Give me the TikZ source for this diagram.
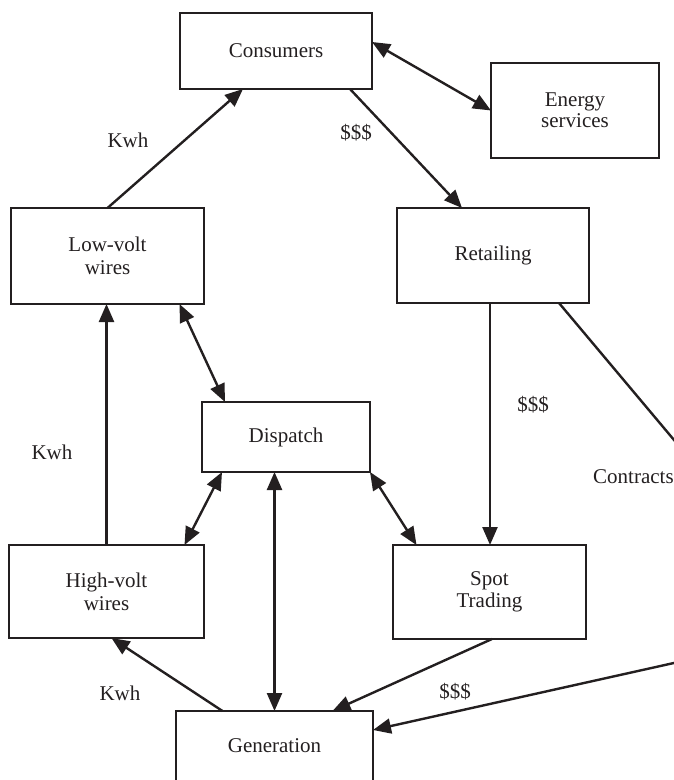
\documentclass[tikz,border=0pt]{standalone}
\usepackage{fontspec}
\setmainfont{Liberation Serif}
\usetikzlibrary{arrows.meta, positioning}
\definecolor{ink}{HTML}{231F20}

\begin{document}
\begin{tikzpicture}[x=1pt, y=-1pt,
  every node/.style={font=\fontsize{21}{23}\selectfont, text=ink},
  box/.style={draw=ink, line width=2.6pt, inner sep=0pt, outer sep=0pt, align=center},
  flow/.style={draw=ink, line width=2.4pt, -{Triangle[length=18pt, width=15pt]}},
  dflow/.style={draw=ink, line width=2.4pt, {Triangle[length=18pt, width=15pt]}-{Triangle[length=18pt, width=15pt]}}]
\useasboundingbox (0,0) rectangle (674,780);
% boxes
\node[box, minimum width=192pt, minimum height=76pt] (cons) at (276,51) {Consumers};
\node[box, minimum width=168pt, minimum height=95pt] (energy) at (575,110.5) {\raisebox{-6pt}{\shortstack{Energy\\services}}};
\node[box, minimum width=193pt, minimum height=96pt] (lowv) at (107.5,256) {Low-volt\\wires};
\node[box, minimum width=192pt, minimum height=95pt] (retail) at (493,255.5) {\raisebox{4pt}{Retailing}};
\node[box, minimum width=168pt, minimum height=70pt] (disp) at (286,437) {Dispatch};
\node[box, minimum width=195pt, minimum height=93pt] (highv) at (106.5,591.5) {High-volt\\wires};
\node[box, minimum width=193pt, minimum height=94pt] (spot) at (489.5,592) {\raisebox{-4pt}{\shortstack{Spot\\Trading}}};
\node[box, minimum width=197pt, minimum height=70pt] (gen) at (274.5,746) {Generation};
% loose ends past the right edge
\coordinate (cright1) at (690,459);
\coordinate (cright2) at (690,659.4);
% flows
\draw[flow] (lowv.north) -- ([xshift=-33pt]cons.south);
\draw[dflow] ([yshift=9pt]cons.east) -- (energy.west);
\draw[flow] ([xshift=74pt]cons.south) -- ([xshift=-31pt]retail.north);
\draw[flow] ([xshift=-3pt]retail.south) -- ([xshift=-3pt]retail.south |- spot.north);
\draw[draw=ink, line width=2.4pt] ([xshift=66pt]retail.south) -- (cright1);
\draw[flow] (cright2) -- ([yshift=16pt]gen.east);
\draw[flow] ([xshift=2.5pt]spot.south) -- ([xshift=58pt]gen.north);
\draw[flow] ([xshift=-52pt]gen.north) -- ([xshift=5pt]highv.south);
\draw[flow] (highv.north) -- (highv.north |- lowv.south);
% dispatch links
\draw[dflow] ([xshift=72pt]lowv.south) -- ([xshift=-61pt]disp.north);
\draw[dflow] ([xshift=-64pt]disp.south) -- ([xshift=78pt]highv.north);
\draw[dflow] (gen.north |- disp.south) -- (gen.north);
\draw[dflow] (disp.south east) -- ([xshift=-73pt]spot.north);
% labels
\node (kwh1) at (128,140) {Kwh};
\node (usd1) at (356,133) {\$\$\$};
\node (usd2) at (533,405) {\$\$\$};
\node[anchor=west, inner sep=0pt] (contr) at (593,477) {Contracts};
\node (kwh2) at (52,452) {Kwh};
\node (kwh3) at (120,693) {Kwh};
\node (usd3) at (455,692) {\$\$\$};
\end{tikzpicture}
\end{document}
